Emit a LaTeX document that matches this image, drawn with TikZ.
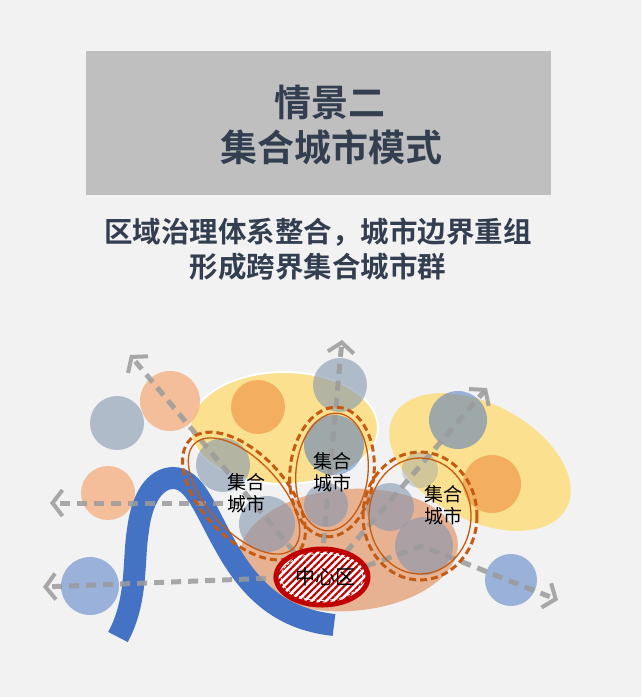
\documentclass[tikz,border=0pt]{standalone}
\usepackage{fontspec}
\newfontfamily\cjk{Noto Sans CJK SC}
\newfontfamily\cjkb{Noto Sans CJK SC Bold}
\usetikzlibrary{arrows.meta,patterns.meta}
\definecolor{bgc}{RGB}{242,242,242}
\definecolor{titlebox}{RGB}{191,191,191}
\definecolor{navy}{RGB}{51,63,80}
\definecolor{yel}{RGB}{255,217,102}
\definecolor{peachbg}{RGB}{230,178,146}
\definecolor{gblue}{RGB}{132,151,176}
\definecolor{bblue}{RGB}{68,114,196}
\definecolor{peach}{RGB}{244,177,131}
\definecolor{orng}{RGB}{237,125,49}
\definecolor{rust}{RGB}{197,90,17}
\definecolor{darkred}{RGB}{192,0,0}
\definecolor{arrgray}{RGB}{155,155,155}
\tikzset{
  cgb/.style={fill=gblue,fill opacity=0.6,draw=none},
  cbl/.style={fill=bblue,fill opacity=0.5,draw=none},
  cpe/.style={fill=peach,fill opacity=0.8,draw=none},
  cor/.style={fill=orng,fill opacity=0.5,draw=none},
  flow/.style={draw=arrgray,draw opacity=0.85,line width=5pt,dash pattern=on 10pt off 7pt,
    -{Straight Barb[length=10pt,width=26pt,line width=4pt]}},
  clusterout/.style={draw=rust,line width=3pt,dash pattern=on 7pt off 4pt},
  clusterin/.style={draw=rust,line width=1.3pt},
  lbl/.style={font=\cjk\fontsize{19}{22}\selectfont,align=center,text=black,inner sep=0pt}
}
\begin{document}
\begin{tikzpicture}[x=1pt,y=-1pt]
\fill[bgc] (0,0) rectangle (641,697);
\useasboundingbox (0,0) rectangle (641,697);
% title
\fill[titlebox] (86,51) rectangle (551,195);
\node[font=\cjkb\fontsize{37}{44}\selectfont,text=navy] (t1) at (330,102) {情景二};
\node[font=\cjkb\fontsize{37}{44}\selectfont,text=navy] (t2) at (331,147) {集合城市模式};
\node[font=\cjkb\fontsize{28.5}{34}\selectfont,text=navy] (s1) at (318,232) {区域治理体系整合，城市边界重组};
\node[font=\cjkb\fontsize{28.5}{34}\selectfont,text=navy] (s2) at (318,267) {形成跨界集合城市群};
% big background ellipses
\fill[yel,fill opacity=0.7] (480,462) [rotate around={-28:(480,462)}] ellipse [x radius=98, y radius=58];
\filldraw[fill=yel,fill opacity=0.7,draw=white,line width=2pt] (284,428) ellipse [x radius=94, y radius=56];
\fill[peachbg] (349,550) [rotate around={4:(349,550)}] ellipse [x radius=109, y radius=61];
% circles
\fill[cgb] (117,423) circle (27);
\fill[cpe] (170,401) circle (30);
\fill[cpe] (108,493) circle (27);
\fill[cbl] (90,586) circle (29);
\fill[cor] (258,407) circle (27);
\fill[cgb] (340,385) circle (27);
\fill[cbl] (334,445) circle (30);
\fill[cgb] (223,465) circle (27);
\fill[cgb] (267,524) circle (28);
\fill[cgb] (326,505) circle (22);
\fill[cbl] (458,420) circle (29);
\fill[cor] (492,484) circle (29);
\fill[cgb,fill opacity=0.35] (420,470) circle (18);
\fill[cgb] (390,507) circle (24);
\fill[cgb] (424,546) circle (29);
\fill[cbl] (511,580) circle (26);
% river
\draw[bblue,line width=22pt] (118,637) .. controls (138,600) and (133,560) .. (138,530)
  .. controls (143,490) and (160,478) .. (173,478)
  .. controls (195,478) and (205,510) .. (225,545)
  .. controls (255,600) and (290,620) .. (334,625);
% flows
\coordinate (o1) at (305,565); \coordinate (e1) at (130,355);
\coordinate (o2) at (322,560); \coordinate (e2) at (342,340);
\coordinate (o3) at (335,565); \coordinate (e3) at (487,388);
\coordinate (o4) at (240,503); \coordinate (e4) at (50,503);
\coordinate (o5) at (300,577); \coordinate (e5) at (43,587);
\coordinate (o6) at (350,572); \coordinate (m6) at (422,546); \coordinate (e6) at (558,600);
\draw[flow] (o1) -- (e1);
\draw[flow] (o2) -- (e2);
\draw[flow] (o3) -- (e3);
\draw[flow] (o4) -- (e4);
\draw[flow] (o5) -- (e5);
\draw[flow] (o6) -- (m6) -- (e6);
% clusters
\draw[clusterout,rotate around={-47:(244,496)}] (244,496) ellipse [x radius=78, y radius=42];
\draw[clusterin,rotate around={-47:(244,496)}] (244,496) ellipse [x radius=72, y radius=36];
\draw[clusterout,rotate around={-6:(332,472)}] (332,472) ellipse [x radius=42, y radius=65];
\draw[clusterin,rotate around={-6:(332,472)}] (332,472) ellipse [x radius=36, y radius=59];
\draw[clusterout] (420,516) ellipse [x radius=57, y radius=64];
\draw[clusterin] (420,516) ellipse [x radius=51, y radius=58];
% centre district
\fill[white] (322,577) ellipse [x radius=46, y radius=28];
\fill[pattern={Lines[angle=45,distance=5pt,line width=2.2pt]},pattern color=darkred] (322,577) ellipse [x radius=46, y radius=28];
\draw[darkred,line width=5pt] (322,577) ellipse [x radius=46, y radius=28];
\draw[white,line width=0.8pt,dash pattern=on 3pt off 1.5pt] (322,577) ellipse [x radius=41, y radius=23.5];
\node[lbl,font=\cjk\fontsize{20}{22}\selectfont] (cz) at (325,577) {中心区};
% labels
\node[lbl] (c1) at (246,493) {集合\\城市};
\node[lbl] (c2) at (332,472) {集合\\城市};
\node[lbl] (c3) at (443,505) {集合\\城市};
\end{tikzpicture}
\end{document}
